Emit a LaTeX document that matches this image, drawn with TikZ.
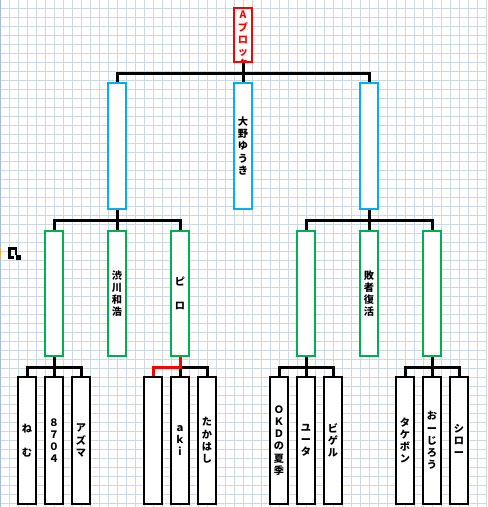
\documentclass[tikz,border=0pt]{standalone}
\usepackage{fontspec}
\usepackage{tikz}
\usetikzlibrary{positioning}
\setmainfont{Noto Sans CJK JP}
\definecolor{gridline}{HTML}{CFD8E8}
\definecolor{edgeline}{HTML}{A3BEDD}
\definecolor{markorange}{HTML}{F5A94A}
\definecolor{blockred}{HTML}{FF0000}
\definecolor{semiblue}{HTML}{00B0F0}
\definecolor{roundgreen}{HTML}{00B050}
\begin{document}
\begin{tikzpicture}[
  x=0.02cm, y=-0.02cm,
  entryfont/.style={font=\bfseries\fontsize{5.8}{6.95}\selectfont, align=center},
  entry/.style={draw, line width=0.04cm, fill=white, minimum width=0.36cm, inner sep=0pt, entryfont},
  topbox/.style={entry, draw=blockred, text=blockred, minimum height=1.08cm},
  semibox/.style={entry, draw=semiblue, minimum height=2.52cm},
  roundbox/.style={entry, draw=roundgreen, minimum height=2.52cm},
  playerbox/.style={entry, draw=black, minimum height=2.54cm},
  bus/.style={line width=0.06cm, black},
  winbus/.style={line width=0.06cm, blockred}
]
\useasboundingbox (0,0) rectangle (487,507);
\fill[white] (0,0) rectangle (487,507);
% grid
\foreach \x in {9,18,...,486}
  \draw[gridline, line width=0.02cm] (\x+0.5,0) -- (\x+0.5,507);
\foreach \y in {8,17,...,506}
  \draw[gridline, line width=0.02cm] (0,\y+0.5) -- (487,\y+0.5);
\draw[edgeline, line width=0.02cm] (0.5,0) -- (0.5,507);
\fill[markorange] (0,248) rectangle (1,258);

\coordinate (topbus) at (243,73.5);
\coordinate (leftbus) at (117,220);
\coordinate (rightbus) at (369,220);

% top
\node[topbox] (blockA) at (243,35) {};
\begin{scope}
\clip (blockA.north west) rectangle (blockA.south east);
\node[entryfont, text=blockred, anchor=north, inner sep=0pt] (blockAtext) at (243,11) {A\\ブ\\ロ\\ッ\\ク};
\end{scope}

% semifinal
\node[semibox] (semiL) at (117,146) {};
\node[semibox] (semiM) at (243,146) {大\\野\\ゆ\\う\\き};
\node[semibox] (semiR) at (369,146) {};

% second round
\node[roundbox] (roundLa) at (54,293.5) {};
\node[roundbox] (roundLb) at (117,293.5) {渋\\川\\和\\浩};
\node[roundbox] (roundLc) at (180,293.5) {ピ\\\\ロ};
\node[roundbox] (roundRa) at (306,293.5) {};
\node[roundbox] (roundRb) at (369,293.5) {敗\\者\\復\\活};
\node[roundbox] (roundRc) at (432,293.5) {};

% players
\foreach \nm/\px/\txt in {pa/27/ね\\\\む, pb/54/８\\７\\０\\４, pc/81/ア\\ズ\\マ,
    pd/153/, pe/180/ａ\\ｋ\\ｉ, pf/207/た\\か\\は\\し,
    pg/279/Ｏ\\Ｋ\\Ｄ\\の\\夏\\季, ph/306/ユ\\ー\\タ, pi/333/ビ\\ゲ\\ル,
    pj/405/タ\\ケ\\ボ\\ン, pk/432/お\\ー\\じ\\ろ\\う, pl/459/シ\\ロ\\ー}
  \node[playerbox] (\nm) at (\px,440.5) {\txt};

% connectors
\draw[bus] (blockA) -- (topbus);
\draw[bus] (semiL.north) |- (topbus) -| (semiR.north);
\draw[bus] (topbus) -- (semiM.north);

\draw[bus] (semiL.south) -- (leftbus);
\draw[bus] (roundLa.north) |- (leftbus) -| (roundLc.north);
\draw[bus] (leftbus) -- (roundLb.north);
\draw[bus] (semiR.south) -- (rightbus);
\draw[bus] (roundRa.north) |- (rightbus) -| (roundRc.north);
\draw[bus] (rightbus) -- (roundRb.north);

\coordinate (busLa) at (54,367.5);
\coordinate (busLc) at (180,367.5);
\coordinate (busRa) at (306,367.5);
\coordinate (busRc) at (432,367.5);
\draw[bus] (roundLa.south) -- (busLa);
\draw[bus] (pa.north) |- (busLa) -| (pc.north);
\draw[bus] (busLa) -- (pb.north);
\draw[bus] (busLc) -| (pf.north);
\draw[bus] (busLc) -- (pe.north);
\draw[winbus] (roundLc.south) -- (busLc) -| (pd.north);
\draw[bus] (roundRa.south) -- (busRa);
\draw[bus] (pg.north) |- (busRa) -| (pi.north);
\draw[bus] (busRa) -- (ph.north);
\draw[bus] (roundRc.south) -- (busRc);
\draw[bus] (pj.north) |- (busRc) -| (pl.north);
\draw[bus] (busRc) -- (pk.north);

% broken picture mark
\draw[black, line width=0.06cm] (14,257.5) -- (9.5,257.5) -- (9.5,248.5) -- (16,248.5) -- (16,255);
\fill[black] (16,255) rectangle (21,260);
\end{tikzpicture}
\end{document}
